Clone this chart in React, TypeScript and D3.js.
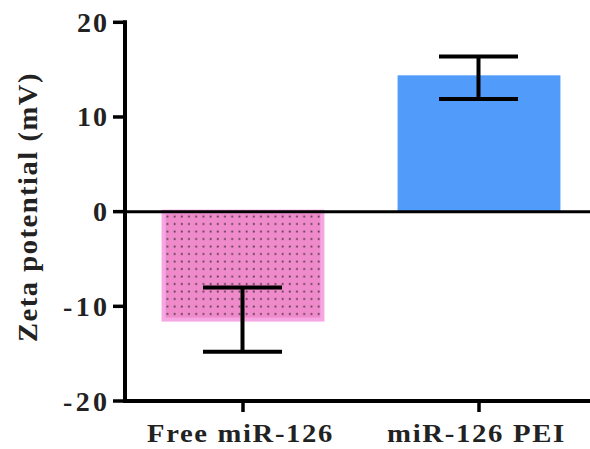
import React from "react";
import * as d3 from "d3";

const categories = ["Free miR-126", "miR-126 PEI"];
const means = [-11.4, 14.4];
const errLow = [-14.8, 11.9];
const errHigh = [-8.0, 16.4];
const yTicks = [-20, -10, 0, 10, 20];
const yTickLabels = ["-20", "-10", "0", "10", "20"];
const yLabel = "Zeta potential (mV)";

const W = 590;
const H = 449;

export default function App() {
  const y = d3.scaleLinear().domain([-20, 20]).range([401, 22.3]);
  const x = d3.scaleBand<string>().domain(categories).range([125, 597]).padding(0);
  const barW = x.bandwidth() * 0.69;
  const capW = 79;
  const font = "Liberation Serif, Times New Roman, serif";
  const xLabelLens = [187, 179];
  const tickLabelLens = [44, 44, 16, 30, 30];

  return (
    <svg width={W} height={H} style={{ position: "absolute", left: 0, top: 0, background: "#fff" }}>
      <defs>
        <pattern id="dots" width={7.2} height={7.5} patternUnits="userSpaceOnUse" x={164} y={213}>
          <rect width={7.2} height={7.5} fill="#F08BCB" />
          <rect x={2.5} y={2.6} width={1.8} height={1.8} fill="#3a2a35" opacity={0.85} />
        </pattern>
      </defs>
      {categories.map((c, i) => {
        const cx = (x(c) as number) + x.bandwidth() / 2;
        const y0 = y(0);
        const y1 = y(means[i]);
        const top = Math.min(y0, y1);
        const h = Math.abs(y1 - y0);
        if (i === 0) {
          return (
            <rect key={c} x={cx - barW / 2 + 2} y={top} width={barW - 4} height={h}
              fill="url(#dots)" stroke="#F6A6E2" strokeWidth={4} />
          );
        }
        return <rect key={c} x={cx - barW / 2} y={top} width={barW} height={h} fill="#519CFB" />;
      })}
      <line x1={125} x2={590} y1={y(0)} y2={y(0)} stroke="#000" strokeWidth={3} />
      {categories.map((c, i) => {
        const cx = (x(c) as number) + x.bandwidth() / 2 - 0.5;
        return (
          <g key={"e" + c} stroke="#000" strokeWidth={4}>
            <line x1={cx} x2={cx} y1={y(errLow[i])} y2={y(errHigh[i])} />
            <line x1={cx - capW / 2} x2={cx + capW / 2} y1={y(errLow[i])} y2={y(errLow[i])} />
            <line x1={cx - capW / 2} x2={cx + capW / 2} y1={y(errHigh[i])} y2={y(errHigh[i])} />
          </g>
        );
      })}
      <line x1={125} x2={125} y1={y(20) - 2} y2={y(-20) + 2} stroke="#000" strokeWidth={4} />
      {yTicks.map((t, i) => (
        <g key={"t" + t}>
          <line x1={113} x2={125} y1={y(t)} y2={y(t)} stroke="#000" strokeWidth={3.5} />
          <text x={107} y={y(t)} dy="0.34em" textAnchor="end" fontFamily={font} fontWeight="bold"
            fontSize={28} fill="#222" textLength={tickLabelLens[i]} lengthAdjust="spacing">
            {yTickLabels[i]}
          </text>
        </g>
      ))}
      <line x1={123} x2={590} y1={401} y2={401} stroke="#000" strokeWidth={4} />
      {categories.map((c, i) => {
        const cx = (x(c) as number) + x.bandwidth() / 2;
        return (
          <g key={"x" + c}>
            <line x1={cx} x2={cx} y1={401} y2={412} stroke="#000" strokeWidth={3.5} />
            <text x={cx - 2.5} y={442} textAnchor="middle" fontFamily={font} fontWeight="bold"
              fontSize={26} fill="#222" letterSpacing={1.5} textLength={xLabelLens[i]}
              lengthAdjust="spacingAndGlyphs">
              {c}
            </text>
          </g>
        );
      })}
      <text transform="translate(37,207) rotate(-90)" textAnchor="middle" fontFamily={font}
        fontWeight="bold" fontSize={28} fill="#222" letterSpacing={1.5} textLength={270}
        lengthAdjust="spacingAndGlyphs">
        {yLabel}
      </text>
    </svg>
  );
}
